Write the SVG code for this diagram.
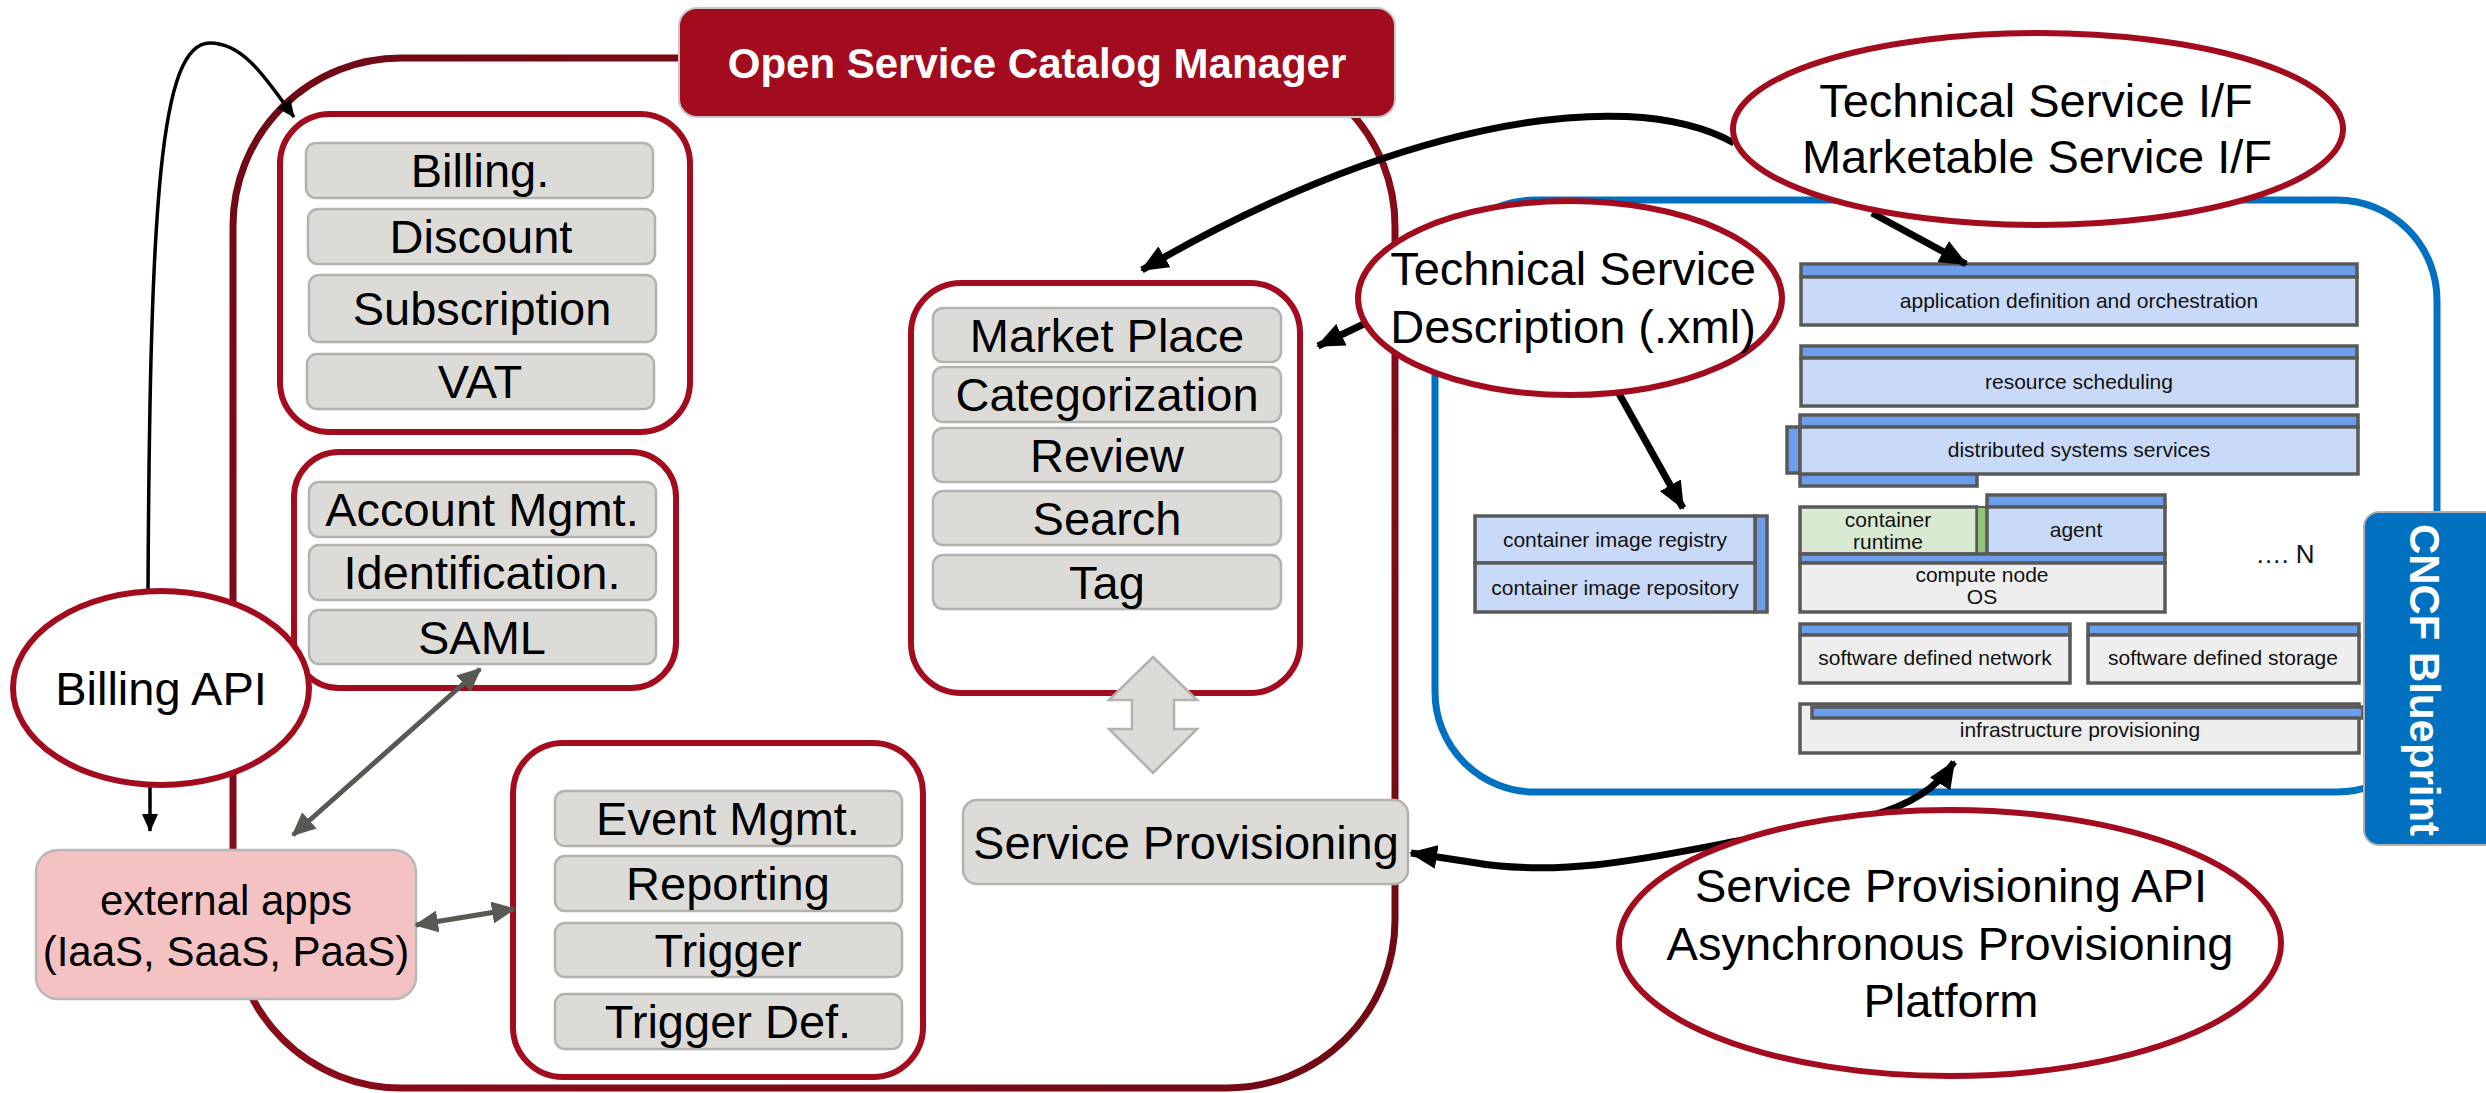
<svg xmlns="http://www.w3.org/2000/svg" width="2486" height="1093" viewBox="0 0 2486 1093">
<defs>
<style>
.grp{fill:#fff;stroke:#a20c1e;stroke-width:6}
.item{fill:#dcdbd7;stroke:#b3b2ad;stroke-width:2.5}
.lbl{font-family:"Liberation Sans",Arial,sans-serif;font-size:47px;fill:#000;text-anchor:middle}
.ell{fill:#fff;stroke:#a20c1e;stroke-width:6}
.bar{fill:#6d9eeb;stroke:#595959;stroke-width:3.5}
.bdy{fill:#c9daf8;stroke:#595959;stroke-width:3.5}
.gry{fill:#eeeeee;stroke:#595959;stroke-width:3.5}
.sm{font-family:"Liberation Sans",Arial,sans-serif;font-size:21px;fill:#111;text-anchor:middle}
.blk{fill:none;stroke:#000;stroke-width:7}
.thin{fill:none;stroke:#000;stroke-width:3.5}
.gra{fill:none;stroke:#595954;stroke-width:5}
</style>
<marker id="ab" markerUnits="userSpaceOnUse" viewBox="0 0 28 24" markerWidth="28" markerHeight="24" refX="26" refY="12" orient="auto"><path d="M0,0 L28,12 L0,24 z" fill="#000"/></marker>
<marker id="as" markerUnits="userSpaceOnUse" viewBox="0 0 18 16" markerWidth="18" markerHeight="16" refX="17" refY="8" orient="auto"><path d="M0,0 L18,8 L0,16 z" fill="#000"/></marker>
<marker id="ag" markerUnits="userSpaceOnUse" viewBox="0 0 24 22" markerWidth="24" markerHeight="22" refX="22" refY="11" orient="auto-start-reverse"><path d="M0,0 L24,11 L0,22 z" fill="#595954"/></marker>
<linearGradient id="mainStroke" x1="0" y1="0" x2="1" y2="1">
<stop offset="0" stop-color="#6e0a14"/>
<stop offset="0.5" stop-color="#8a0b1a"/>
<stop offset="1" stop-color="#6e0a14"/>
</linearGradient>
</defs>
<rect width="2486" height="1093" fill="#fff"/>

<g id="osc-manager">
<rect x="233" y="58" width="1162" height="1030" rx="168" ry="168" fill="none" stroke="url(#mainStroke)" stroke-width="7"/>
</g>

<g id="cncf">
<rect x="1435" y="200" width="1002" height="592" rx="100" ry="100" fill="none" stroke="#0070c0" stroke-width="7"/>
</g>

<g id="title">
<rect x="679" y="8" width="716" height="109" rx="18" fill="#a20c1e" stroke="#c8c8c8" stroke-width="2"/>
<text x="1037" y="78" font-family="Liberation Sans,Arial,sans-serif" font-size="42" font-weight="bold" fill="#fff" text-anchor="middle">Open Service Catalog Manager</text>
</g>

<g id="billing-group">
<rect class="grp" x="280" y="114" width="410" height="318" rx="50"/>
<rect class="item" x="306" y="143" width="347" height="55" rx="10"/>
<text class="lbl" x="480" y="187">Billing.</text>
<rect class="item" x="308" y="209" width="347" height="55" rx="10"/>
<text class="lbl" x="481" y="253">Discount</text>
<rect class="item" x="309" y="275" width="347" height="67" rx="10"/>
<text class="lbl" x="482" y="325">Subscription</text>
<rect class="item" x="307" y="354" width="347" height="55" rx="10"/>
<text class="lbl" x="480" y="398">VAT</text>
</g>

<g id="account-group">
<rect class="grp" x="294" y="452" width="382" height="236" rx="45"/>
<rect class="item" x="309" y="482" width="347" height="55" rx="10"/>
<text class="lbl" x="482" y="526">Account Mgmt.</text>
<rect class="item" x="309" y="545" width="347" height="55" rx="10"/>
<text class="lbl" x="482" y="589">Identification.</text>
<rect class="item" x="309" y="610" width="347" height="54" rx="10"/>
<text class="lbl" x="482" y="654">SAML</text>
</g>

<g id="event-group">
<rect class="grp" x="513" y="743" width="410" height="334" rx="50"/>
<rect class="item" x="555" y="791" width="347" height="55" rx="10"/>
<text class="lbl" x="728" y="835">Event Mgmt.</text>
<rect class="item" x="555" y="856" width="347" height="55" rx="10"/>
<text class="lbl" x="728" y="900">Reporting</text>
<rect class="item" x="555" y="923" width="347" height="54" rx="10"/>
<text class="lbl" x="728" y="967">Trigger</text>
<rect class="item" x="555" y="994" width="347" height="55" rx="10"/>
<text class="lbl" x="728" y="1038">Trigger Def.</text>
</g>

<g id="market-group">
<rect class="grp" x="911" y="283" width="389" height="410" rx="50"/>
<rect class="item" x="933" y="308" width="348" height="54" rx="10"/>
<text class="lbl" x="1107" y="352">Market Place</text>
<rect class="item" x="933" y="367" width="348" height="55" rx="10"/>
<text class="lbl" x="1107" y="411">Categorization</text>
<rect class="item" x="933" y="428" width="348" height="54" rx="10"/>
<text class="lbl" x="1107" y="472">Review</text>
<rect class="item" x="933" y="491" width="348" height="54" rx="10"/>
<text class="lbl" x="1107" y="535">Search</text>
<rect class="item" x="933" y="555" width="348" height="54" rx="10"/>
<text class="lbl" x="1107" y="599">Tag</text>
</g>

<g id="updown-arrow">
<polygon points="1153,657 1197,700 1174,700 1174,729 1197,729 1153,773 1109,729 1132,729 1132,700 1109,700" fill="#dcdbd7" stroke="#b3b2ad" stroke-width="2.5"/>
</g>

<g id="service-provisioning">
<rect class="item" x="963" y="800" width="445" height="84" rx="14"/>
<text class="lbl" x="1186" y="859">Service Provisioning</text>
</g>

<g id="external-apps">
<rect x="36" y="850" width="380" height="149" rx="22" fill="#f4c2c2" stroke="#b8b8b8" stroke-width="2.5"/>
<text class="lbl" x="226" y="915" style="font-size:42px">external apps</text>
<text class="lbl" x="226" y="966" style="font-size:42px">(IaaS, SaaS, PaaS)</text>
</g>

<g id="cncf-stack">
<rect class="bar" x="1801" y="264" width="556" height="13"/>
<rect class="bdy" x="1801" y="277" width="556" height="48"/>
<text class="sm" x="2079" y="308">application definition and orchestration</text>
<rect class="bar" x="1801" y="346" width="556" height="12"/>
<rect class="bdy" x="1801" y="358" width="556" height="48"/>
<text class="sm" x="2079" y="389">resource scheduling</text>
<rect class="bar" x="1787" y="427" width="13" height="46"/>
<rect class="bar" x="1800" y="474" width="177" height="12"/>
<rect class="bar" x="1800" y="415" width="558" height="12"/>
<rect class="bdy" x="1800" y="427" width="558" height="47"/>
<text class="sm" x="2079" y="457">distributed systems services</text>
<rect x="1800" y="507" width="177" height="47" fill="#d9ead3" stroke="#595959" stroke-width="3.5"/>
<rect x="1977" y="507" width="10" height="47" fill="#93c47d" stroke="#595959" stroke-width="2"/>
<text class="sm" x="1888" y="527">container</text>
<text class="sm" x="1888" y="549">runtime</text>
<rect class="bar" x="1987" y="495" width="178" height="12"/>
<rect class="bdy" x="1987" y="507" width="178" height="47"/>
<text class="sm" x="2076" y="537">agent</text>
<rect class="bar" x="1800" y="554" width="365" height="9"/>
<rect class="gry" x="1800" y="563" width="365" height="49"/>
<text class="sm" x="1982" y="582">compute node</text>
<text class="sm" x="1982" y="604">OS</text>
<text class="sm" x="2285" y="563" style="font-size:26px">…. N</text>
<rect class="bar" x="1755" y="516" width="12" height="96"/>
<rect class="bdy" x="1475" y="516" width="280" height="47"/>
<rect class="bdy" x="1475" y="563" width="280" height="49"/>
<text class="sm" x="1615" y="547">container image registry</text>
<text class="sm" x="1615" y="595">container image repository</text>
<rect class="bar" x="1800" y="624" width="270" height="11"/>
<rect class="gry" x="1800" y="635" width="270" height="48"/>
<text class="sm" x="1935" y="665">software defined network</text>
<rect class="bar" x="2088" y="624" width="271" height="11"/>
<rect class="gry" x="2088" y="635" width="271" height="48"/>
<text class="sm" x="2223" y="665">software defined storage</text>
<rect class="gry" x="1800" y="704" width="559" height="49"/>
<rect class="bar" x="1812" y="707" width="551" height="11"/>
<text class="sm" x="2080" y="737">infrastructure provisioning</text>
</g>

<g id="cncf-label">
<rect x="2364" y="512" width="140" height="333" rx="15" fill="#0070c0" stroke="#b0b0b0" stroke-width="2"/>
<text transform="translate(2410,680) rotate(90)" x="0" y="0" font-family="Liberation Sans,Arial,sans-serif" font-size="43" font-weight="bold" fill="#fff" text-anchor="middle" textLength="312" lengthAdjust="spacingAndGlyphs">CNCF Blueprint</text>
</g>

<g id="connectors">
<path class="thin" d="M148,592 C150,200 160,43 210,43 C245,43 268,82 294,117" marker-end="url(#as)"/>
<path class="thin" d="M150,786 L150,831" marker-end="url(#as)"/>
<path class="gra" d="M293,835 L480,669" marker-start="url(#ag)" marker-end="url(#ag)"/>
<path class="gra" d="M416,925 L514,909" marker-start="url(#ag)" marker-end="url(#ag)"/>
<path class="blk" d="M1734,143 C1620,80 1380,130 1142,270" marker-end="url(#ab)"/>
<path class="blk" d="M1872,213 L1966,264" marker-end="url(#ab)"/>
<path class="blk" d="M1368,322 L1318,346" marker-end="url(#ab)"/>
<path class="blk" d="M1617,390 L1683,508" marker-end="url(#ab)"/>
<path class="blk" d="M1742,840 C1650,858 1560,878 1470,862 L1411,853" marker-end="url(#ab)"/>
<path class="blk" d="M1870,816 Q1930,800 1954,762" marker-end="url(#ab)"/>
</g>

<g id="billing-api">
<ellipse class="ell" cx="161" cy="688" rx="148" ry="97"/>
<text class="lbl" x="161" y="705">Billing API</text>
</g>

<g id="tech-if">
<ellipse class="ell" cx="2038" cy="129" rx="305" ry="96"/>
<text class="lbl" x="2036" y="117">Technical Service I/F</text>
<text class="lbl" x="2037" y="173">Marketable Service I/F</text>
</g>

<g id="tech-desc">
<ellipse class="ell" cx="1570" cy="298" rx="212" ry="97"/>
<text class="lbl" x="1573" y="285">Technical Service</text>
<text class="lbl" x="1573" y="343">Description (.xml)</text>
</g>

<g id="prov-api">
<ellipse class="ell" cx="1950" cy="943" rx="331" ry="133"/>
<text class="lbl" x="1951" y="902">Service Provisioning API</text>
<text class="lbl" x="1950" y="960">Asynchronous Provisioning</text>
<text class="lbl" x="1951" y="1017">Platform</text>
</g>
</svg>
